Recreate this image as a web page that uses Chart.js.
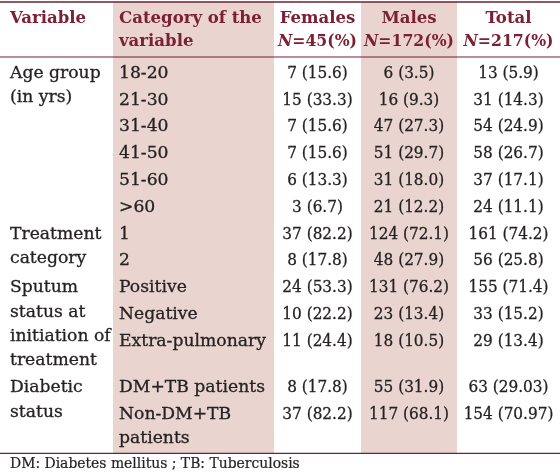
<!DOCTYPE html>
<html>
<head>
<meta charset="utf-8">
<script src="https://cdn.jsdelivr.net/npm/chart.js@4.4.0/dist/chart.umd.min.js"></script>
<style>
  html, body { margin: 0; padding: 0; background: #fff; }
</style>
</head>
<body>
<canvas id="chart-table" width="560" height="473"></canvas>
<script>
// --- table data ---
const headers = ['Variable', 'Category of the variable', 'Females', 'Males', 'Total'];
const groupN = [45, 172, 217];
const variables = [['Age group', '(in yrs)'], ['Treatment', 'category'], ['Sputum', 'status at', 'initiation of', 'treatment'], ['Diabetic', 'status']];
const variableSpan = [6, 2, 3, 2];
const categories = ['18-20', '21-30', '31-40', '41-50', '51-60', '>60', '1', '2', 'Positive', 'Negative', 'Extra-pulmonary', 'DM+TB patients', 'Non-DM+TB patients'];
const femaleN = [7, 15, 7, 7, 6, 3, 37, 8, 24, 10, 11, 8, 37];
const femalePct = ['15.6', '33.3', '15.6', '15.6', '13.3', '6.7', '82.2', '17.8', '53.3', '22.2', '24.4', '17.8', '82.2'];
const maleN = [6, 16, 47, 51, 31, 21, 124, 48, 131, 23, 18, 55, 117];
const malePct = ['3.5', '9.3', '27.3', '29.7', '18.0', '12.2', '72.1', '27.9', '76.2', '13.4', '10.5', '31.9', '68.1'];
const totalN = [13, 31, 54, 58, 37, 24, 161, 56, 155, 33, 29, 63, 154];
const totalPct = ['5.9', '14.3', '24.9', '26.7', '17.1', '11.1', '74.2', '25.8', '71.4', '15.2', '13.4', '29.03', '70.97'];
const footnote = 'DM: Diabetes mellitus ; TB: Tuberculosis';

// --- layout / style ---
const colEdges = [0, 113, 274, 361, 457, 560];
const shaded = [1, 3];
const shade = '#e9d4cf';
const maroon = '#7b2035';
const ruleColor = '#6e2232';
const ink = '#262223';
const FONT = '"DejaVu Serif", serif';
const headerRule = 57, topRule = 2;
const rowH = 26.8, lineH = 24.4, baseOff = 20.8;

const tmp = document.createElement('canvas').getContext('2d');
function measure(text, font) {
  tmp.font = font;
  return tmp.measureText(text).width;
}
function fitSize(text, weight, target) {
  return 100 * target / measure(text, weight + ' 100px ' + FONT);
}
const bodySize = fitSize('Extra-pulmonary', 'normal', 147);
const headSize = fitSize('Category of the', 'bold', 143);
const footSize = fitSize(footnote, 'normal', 290);
// digits in the reference face are narrower than DejaVu's
const numSquash = 80 / measure('124 (72.1)', bodySize + 'px ' + FONT);
const headNumSquash = 90 / measure('N=172(%)', 'bold ' + headSize + 'px ' + FONT);

function wrap(text, maxW) {
  const words = text.split(' ');
  const lines = [];
  let cur = '';
  words.forEach(w => {
    const t = cur ? cur + ' ' + w : w;
    if (cur && measure(t, bodySize + 'px ' + FONT) > maxW) { lines.push(cur); cur = w; } else cur = t;
  });
  lines.push(cur);
  return lines;
}
const catLines = categories.map(c => wrap(c, colEdges[2] - colEdges[1] - 12));

// row heights, stretched when a spanning variable cell needs more lines
const heights = catLines.map(l => Math.max(rowH, (l.length - 1) * lineH + rowH));
let r = 0;
variables.forEach((lines, g) => {
  const need = (lines.length - 1) * lineH + rowH;
  let have = 0;
  for (let k = 0; k < variableSpan[g]; k++) have += heights[r + k];
  if (need > have) heights[r + variableSpan[g] - 1] += need - have;
  r += variableSpan[g];
});
const rowTop = [];
let y = headerRule;
heights.forEach(h => { rowTop.push(y); y += h; });
const bottomRule = y + 4;
const rowBase = rowTop.map(t => t + baseOff);

const colCenter = i => (colEdges[i] + colEdges[i + 1]) / 2;
function colData(ci) {
  return categories.map((_, i) => ({ x: colCenter(ci), y: rowBase[i] }));
}

// draw text with a horizontal squash, optionally with a faint outline to thicken strokes
function drawText(ctx, text, x, y, align, squash, thicken) {
  ctx.save();
  ctx.translate(x, y);
  ctx.scale(squash, 1);
  ctx.textAlign = align;
  ctx.fillText(text, 0, 0);
  if (thicken) {
    ctx.lineWidth = thicken;
    ctx.strokeStyle = ctx.fillStyle;
    ctx.strokeText(text, 0, 0);
  }
  ctx.restore();
}

const tablePlugin = {
  id: 'tableDraw',
  beforeDatasetsDraw(chart) {
    const ctx = chart.ctx, sx = chart.scales.x, sy = chart.scales.y;
    ctx.save();
    ctx.fillStyle = shade;
    shaded.forEach(ci => {
      const x0 = sx.getPixelForValue(colEdges[ci]), x1 = sx.getPixelForValue(colEdges[ci + 1]);
      const y0 = sy.getPixelForValue(topRule), y1 = sy.getPixelForValue(bottomRule);
      ctx.fillRect(x0, y0, x1 - x0, y1 - y0);
    });
    ctx.strokeStyle = ruleColor;
    [[topRule, 1.6], [headerRule, 1.2], [bottomRule, 1.2]].forEach(([v, w]) => {
      ctx.lineWidth = w;
      ctx.beginPath();
      ctx.moveTo(sx.left, sy.getPixelForValue(v));
      ctx.lineTo(sx.right, sy.getPixelForValue(v));
      ctx.stroke();
    });
    ctx.restore();
  },
  afterDatasetsDraw(chart) {
    const ctx = chart.ctx, sx = chart.scales.x, sy = chart.scales.y;
    ctx.save();
    ctx.textBaseline = 'alphabetic';
    // header
    ctx.fillStyle = maroon;
    const hb1 = sy.getPixelForValue(23), hb2 = sy.getPixelForValue(45.5);
    const hFont = 'bold ' + headSize + 'px ' + FONT;
    const hItal = 'italic bold ' + headSize + 'px ' + FONT;
    ctx.font = hFont;
    drawText(ctx, headers[0], sx.getPixelForValue(10), hb1, 'left', 1, 0);
    drawText(ctx, 'Category of the', sx.getPixelForValue(119), hb1, 'left', 1, 0);
    drawText(ctx, 'variable', sx.getPixelForValue(119), hb2, 'left', 1, 0);
    [2, 3, 4].forEach((ci, k) => {
      const cx = sx.getPixelForValue(colCenter(ci));
      ctx.font = hFont;
      drawText(ctx, headers[ci], cx, hb1, 'center', 1, 0);
      const rest = '=' + groupN[k] + '(%)';
      const wN = measure('N', hItal) * headNumSquash;
      const wR = measure(rest, hFont) * headNumSquash;
      const x0 = cx - (wN + wR) / 2;
      ctx.font = hItal;
      drawText(ctx, 'N', x0, hb2, 'left', headNumSquash, 0);
      ctx.font = hFont;
      drawText(ctx, rest, x0 + wN, hb2, 'left', headNumSquash, 0);
    });
    // body
    ctx.fillStyle = ink;
    ctx.font = bodySize + 'px ' + FONT;
    let row = 0;
    variables.forEach((lines, g) => {
      lines.forEach((t, j) => drawText(ctx, t, sx.getPixelForValue(10), sy.getPixelForValue(rowBase[row] + j * lineH), 'left', 1, 0.3));
      row += variableSpan[g];
    });
    catLines.forEach((lines, i) => {
      lines.forEach((t, j) => drawText(ctx, t, sx.getPixelForValue(119), sy.getPixelForValue(rowBase[i] + j * lineH), 'left', 1, 0.3));
    });
    const cols = [[femaleN, femalePct], [maleN, malePct], [totalN, totalPct]];
    chart.data.datasets.forEach((ds, d) => {
      const meta = chart.getDatasetMeta(d);
      meta.data.forEach((pt, i) => {
        drawText(ctx, cols[d][0][i] + ' (' + cols[d][1][i] + ')', pt.x, pt.y, 'center', numSquash, 0.3);
      });
    });
    // footnote
    ctx.font = footSize + 'px ' + FONT;
    drawText(ctx, footnote, sx.getPixelForValue(10), sy.getPixelForValue(bottomRule + 15), 'left', 1, 0.2);
    ctx.restore();
  }
};

new Chart(document.getElementById('chart-table'), {
  type: 'scatter',
  data: {
    datasets: [
      { label: headers[2], data: colData(2), pointRadius: 0 },
      { label: headers[3], data: colData(3), pointRadius: 0 },
      { label: headers[4], data: colData(4), pointRadius: 0 }
    ]
  },
  options: {
    responsive: false,
    animation: false,
    layout: { padding: 0 },
    scales: {
      x: { type: 'linear', min: 0, max: 560, display: false },
      y: { type: 'linear', min: 0, max: 473, reverse: true, display: false }
    },
    plugins: { legend: { display: false }, tooltip: { enabled: false } }
  },
  plugins: [tablePlugin]
});
</script>
</body>
</html>
